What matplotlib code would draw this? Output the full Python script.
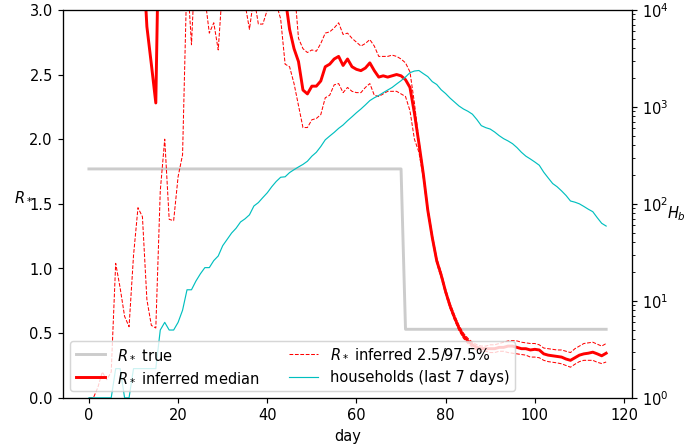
"""
R* inferred vs true, with household counts
"""

import numpy as np
import matplotlib.pyplot as plt

days = np.arange(117)

# true R*: step down after day 70
r_true = [1.77] * 71 + [0.53] * 46

r_median = [
    5.5, 6.2, 5.8, 5.1, 4.7, 4.9, 4.4, 4.6, 4.2, 4.0, 3.9, 3.8,
    3.5, 2.87, 2.58, 2.28, 4.3,
    4.1, 3.9, 3.8, 3.9, 3.7, 3.6, 3.7, 3.8, 3.6, 3.5, 3.6, 3.7, 3.5,
    3.6, 3.5, 3.6, 3.4, 3.5, 3.6, 3.5, 3.6, 3.5, 3.6, 3.5, 3.4, 3.5,
    3.3, 3.1, 2.85, 2.70, 2.60, 2.38, 2.35, 2.41, 2.41, 2.45,
    2.56, 2.58, 2.62, 2.64, 2.57, 2.62, 2.56, 2.54, 2.53, 2.55,
    2.59, 2.53, 2.48, 2.49, 2.48, 2.49, 2.50, 2.49, 2.46, 2.40,
    2.20, 1.97, 1.73, 1.45, 1.24, 1.06, 0.95, 0.82, 0.71, 0.62,
    0.54, 0.48, 0.44, 0.41, 0.39, 0.38, 0.38, 0.38, 0.38, 0.39,
    0.39, 0.40, 0.40, 0.39, 0.38, 0.38, 0.37, 0.375, 0.37, 0.34,
    0.33, 0.325, 0.32, 0.315, 0.30, 0.29, 0.31, 0.33, 0.34, 0.345,
    0.353, 0.34, 0.325, 0.345,
]

r_upper = [
    9.0, 9.5, 9.2, 8.8, 8.1, 8.4, 7.6, 7.9, 7.2, 7.0, 6.8, 6.6,
    6.4, 5.9, 5.5, 5.2, 6.3, 6.0, 5.7, 5.5, 5.6, 5.3, 5.1, 5.2,
    5.3, 5.0, 4.9, 4.9, 5.0, 4.7, 4.8, 4.6, 4.7, 4.5, 4.5, 4.6,
    4.4, 4.5, 4.3, 4.3, 4.2, 4.1, 4.0, 3.8, 3.6, 3.4,
    3.2, 2.78, 2.70, 2.67, 2.69, 2.68, 2.74, 2.82, 2.83, 2.86,
    2.90, 2.81, 2.82, 2.78, 2.75, 2.72, 2.74, 2.77, 2.72, 2.64,
    2.64, 2.64, 2.65, 2.64, 2.62, 2.59, 2.52, 2.28, 1.99, 1.75,
    1.47, 1.26, 1.08, 0.97, 0.84, 0.73, 0.64, 0.56, 0.50, 0.46,
    0.43, 0.41, 0.40, 0.40, 0.41, 0.41, 0.42, 0.43, 0.44, 0.443,
    0.44, 0.43, 0.425, 0.42, 0.42, 0.41, 0.385, 0.38, 0.375, 0.37,
    0.37, 0.36, 0.35, 0.38, 0.40, 0.42, 0.425, 0.43, 0.415, 0.40,
    0.42,
]

r_lower = [
    0.0, 0.0, 0.08, 0.20, 0.14, 0.20, 1.04, 0.85, 0.63, 0.55,
    1.10, 1.47, 1.40, 0.76, 0.56, 0.54, 1.60, 2.00, 1.38, 1.37,
    1.71, 1.88, 3.30, 2.73, 3.50, 3.60, 3.10, 2.82, 2.90, 2.69,
    3.20, 3.50, 3.60, 3.40, 3.30, 3.05, 2.85, 3.10, 2.89, 2.89,
    3.00, 3.20, 3.05, 2.93, 2.58, 2.56, 2.43, 2.26, 2.09, 2.09,
    2.15, 2.16, 2.19, 2.32, 2.34, 2.42, 2.43, 2.36, 2.40, 2.37,
    2.36, 2.36, 2.40, 2.43, 2.34, 2.33, 2.35, 2.37, 2.37, 2.37,
    2.35, 2.33, 2.22, 2.00, 1.90, 1.70, 1.43, 1.22, 1.04, 0.93,
    0.80, 0.69, 0.60, 0.52, 0.46, 0.42, 0.39, 0.37, 0.36, 0.36,
    0.35, 0.35, 0.36, 0.36, 0.35, 0.345, 0.34, 0.335, 0.33, 0.315,
    0.315, 0.31, 0.29, 0.28, 0.275, 0.27, 0.263, 0.25, 0.237, 0.26,
    0.28, 0.29, 0.29, 0.29, 0.275, 0.265, 0.277,
]

households = [
    1, 1, 1, 1, 1, 1, 2, 2, 1, 1,
    2, 2, 2, 2, 2, 2, 5, 6, 5, 5,
    6, 8, 13, 13, 16, 19, 22, 22, 26, 29,
    37, 43, 50, 56, 65, 70, 77, 95, 103, 116,
    130, 150, 170, 188, 190, 210, 225, 240, 255, 275,
    310, 340, 390, 457, 500, 545, 600, 650, 720, 790,
    870, 950, 1047, 1160, 1240, 1310, 1400, 1490, 1585, 1720,
    1860, 2030, 2250, 2340, 2370, 2200, 2050, 1820, 1700, 1500,
    1370, 1230, 1120, 1020, 950, 900, 840, 740, 640, 610,
    590, 550, 505, 470, 445, 417, 380, 340, 310, 290,
    270, 250, 212, 185, 162, 150, 136, 122, 107, 104,
    100, 94, 88, 83, 72, 63, 59,
]

fig = plt.figure(figsize=(6.6, 4.2667), dpi=105)
ax = fig.add_axes([0.091, 0.112, 0.821, 0.866])

l1, = ax.plot(days, r_true, color='0.8', lw=2, label='$R_*$ true')
l3, = ax.plot(days, r_upper, 'r--', lw=0.7, label='$R_*$ inferred 2.5/97.5%')
ax.plot(days, r_lower, 'r--', lw=0.7)
l2, = ax.plot(days, r_median, 'r-', lw=2, label='$R_*$ inferred median')
ax.set_ylim(0, 3)
ax.set_xlabel('day')
ax.set_ylabel('$R_*$', rotation=0, labelpad=4)

ax2 = ax.twinx()
l4, = ax2.plot(days, households, 'c-', lw=0.8, label='households (last 7 days)')
ax2.set_yscale('log')
ax2.set_ylim(1, 1e4)
ax2.set_ylabel('$H_b$', rotation=0, labelpad=5)

ax2.legend(handles=[l1, l2, l3, l4], loc='lower left', ncol=2)

fig.savefig('out.png', dpi=105)
